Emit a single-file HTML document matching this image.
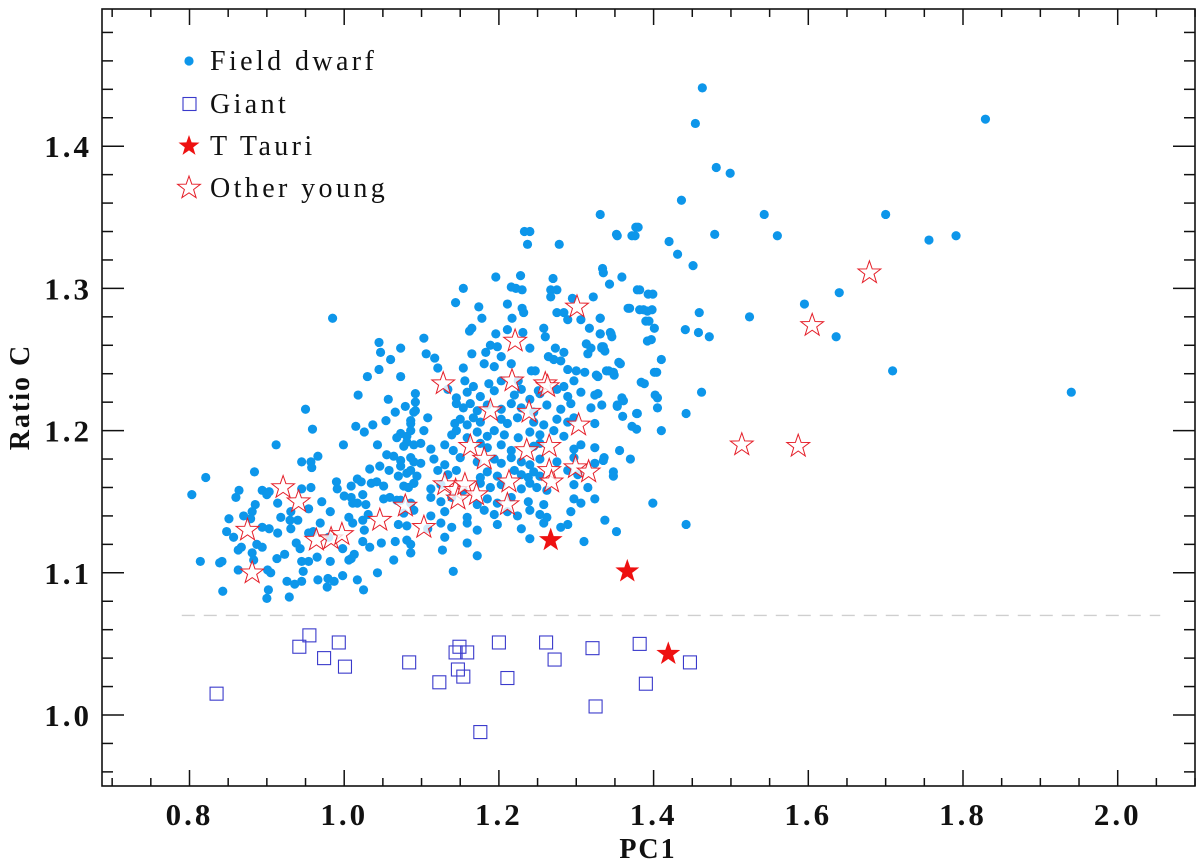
<!DOCTYPE html>
<html><head><meta charset="utf-8"><style>
html,body{margin:0;padding:0;background:#fff;}
svg{display:block;}
text{font-family:"Liberation Serif",serif;fill:#111;}
</style></head><body>
<svg id="chart" width="1200" height="862" viewBox="0 0 1200 862">
<rect x="0" y="0" width="1200" height="862" fill="#fff"/>
<g id="marks"></g>
<g id="axes"></g>
<g id="legend"></g>
</svg>
<script>
// ---- data ----
const xMin = 0.7, xMax = 2.115, yMin = 0.95, yMax = 1.495;
const xTickLabels = ["0.8","1.0","1.2","1.4","1.6","1.8","2.0"];
const yTickLabels = ["1.0","1.1","1.2","1.3","1.4"];
const dividerY = 1.07;

const giantX = [0.835,0.942,0.955,0.974,0.993,1.001,1.084,1.123,1.144,1.149,1.147,1.154,1.159,1.176,1.200,1.211,1.261,1.272,1.321,1.325,1.382,1.390,1.447];
const giantY = [1.015,1.048,1.056,1.040,1.051,1.034,1.037,1.023,1.044,1.048,1.032,1.027,1.044,0.988,1.051,1.026,1.051,1.039,1.047,1.006,1.050,1.022,1.037];

const tTauriX = [1.267,1.366,1.419];
const tTauriY = [1.123,1.101,1.043];

const youngX = [0.875,0.881,0.921,0.941,0.964,0.983,0.997,1.046,1.079,1.103,1.128,1.130,1.144,1.147,1.156,1.163,1.171,1.181,1.189,1.211,1.213,1.217,1.221,1.236,1.239,1.260,1.263,1.265,1.265,1.268,1.303,1.301,1.299,1.316,1.514,1.587,1.605,1.679];
const youngY = [1.130,1.100,1.160,1.150,1.123,1.124,1.127,1.137,1.147,1.132,1.233,1.162,1.158,1.152,1.162,1.189,1.155,1.180,1.214,1.148,1.164,1.235,1.263,1.186,1.213,1.233,1.231,1.189,1.172,1.164,1.204,1.287,1.174,1.171,1.190,1.189,1.274,1.311];

const dwarfX = [
1.463,1.454,1.481,1.499,1.436,1.829,1.543,1.700,1.560,1.756,1.791,1.479,1.420,1.431,1.451,1.377,1.372,1.352,1.359,1.343,1.379,1.393,1.367,1.382,1.392,1.459,1.524,1.595,1.640,1.636,1.709,1.940,1.390,1.401,1.392,1.441,1.458,1.472,1.410,1.401,1.384,1.355,1.342,1.349,1.462,1.402,1.405,1.359,1.353,1.360,1.378,1.442,1.372,1.378,1.410,1.356,1.336,1.370,1.348,1.399,1.337,1.352,1.442,
1.331,1.334,1.335,1.331,1.331,1.344,1.346,1.333,1.337,
1.233,1.240,1.237,1.278,1.353,1.376,1.380,1.196,1.228,1.270,1.154,1.216,1.222,1.230,1.267,1.275,
1.144,1.174,1.211,1.230,1.232,1.267,1.295,1.322,1.178,1.217,1.275,1.284,1.289,1.306,1.331,1.369,1.382,1.399,1.387,1.398,
1.165,1.162,1.196,1.211,1.231,1.258,1.260,1.317,1.331,1.345,1.394,1.103,
1.189,1.198,1.240,1.273,1.284,1.313,1.315,1.335,1.397,
1.106,1.117,1.165,1.183,1.203,1.264,1.280,1.289,1.319,1.333,1.348,1.357,
1.121,1.154,1.181,1.194,1.216,1.247,1.271,1.300,1.311,1.326,1.339,1.404,1.388,
1.073,1.156,1.167,1.187,1.203,1.225,1.242,1.251,1.284,1.297,1.328,1.328,1.353,1.361,1.379,1.405,1.073,
1.092,1.134,1.145,1.159,1.176,1.194,1.220,1.229,1.240,1.253,1.275,1.289,1.306,1.324,
1.079,1.092,1.145,1.154,1.163,1.172,1.185,1.203,1.216,1.229,1.245,1.262,1.280,1.293,1.319,1.333,
1.086,1.108,1.143,1.150,1.159,1.167,1.176,1.203,1.211,1.224,1.245,1.258,1.275,1.289,1.297,1.324,
1.073,1.081,1.103,1.139,1.145,1.159,1.172,1.185,1.194,1.207,1.225,1.240,1.253,1.271,1.284,
1.077,1.099,1.112,1.130,1.141,1.176,1.185,1.203,1.216,1.245,1.253,1.297,1.306,1.324,
1.073,1.086,1.099,1.116,1.130,1.150,1.172,1.194,1.203,1.216,1.229,1.240,1.253,1.275,1.297,1.324,1.335,
1.081,1.094,1.121,1.134,1.145,1.176,1.185,1.198,1.220,1.229,1.238,1.245,1.253,1.289,1.302,1.348,
1.077,1.090,1.112,1.125,1.154,1.176,1.189,1.203,1.229,1.240,1.249,1.262,1.297,1.315,
1.073,1.086,1.112,1.125,1.139,1.172,1.185,1.198,1.216,1.238,1.258,1.297,1.306,1.324,
1.077,1.090,1.112,1.130,1.159,1.181,1.194,1.211,1.224,1.240,1.253,1.262,1.293,
1.081,1.108,1.125,1.139,1.159,1.172,1.198,1.229,1.258,1.280,1.289,
1.081,1.130,1.159,1.240,1.310,1.086,1.127,1.172,1.141,
0.959,1.057,1.092,1.090,1.066,1.054,1.015,1.026,1.037,1.086,1.086,0.999,1.043,1.068,1.081,1.090,1.055,1.064,1.073,1.086,1.090,1.033,1.046,1.058,1.070,
0.945,0.957,0.966,0.958,0.884,0.821,0.803,0.864,0.860,0.894,0.903,0.900,0.945,0.957,0.990,0.991,1.009,1.017,1.022,1.035,1.042,1.051,1.059,1.083,1.090,
0.914,0.931,0.954,0.971,0.982,1.000,1.009,1.024,1.028,1.017,1.051,1.068,0.885,0.881,0.879,0.851,0.918,0.930,0.940,0.931,0.894,0.903,0.914,0.848,0.857,
0.867,0.863,0.887,0.894,0.881,0.883,0.938,0.943,0.954,0.969,0.960,0.998,1.006,1.011,1.024,1.031,1.026,1.024,1.033,1.048,1.066,1.070,1.086,1.086,1.064,
1.043,1.017,1.025,0.998,0.982,0.965,0.954,0.945,0.923,0.913,0.905,0.901,0.863,0.842,0.839,0.814,0.843,0.900,0.902,0.929,0.926,0.936,0.945,0.966,0.979,
0.978,0.987,1.006,1.013,0.947,0.980,1.011,1.009,
0.985,1.045,1.047,1.045,1.060,1.030,1.018,0.950,0.912,0.870
];
const dwarfY = [
1.441,1.416,1.385,1.381,1.362,1.419,1.352,1.352,1.337,1.334,1.337,1.338,1.333,1.324,1.316,1.343,1.337,1.338,1.308,1.303,1.299,1.296,1.286,1.285,1.284,1.283,1.280,1.289,1.297,1.266,1.242,1.227,1.277,1.272,1.263,1.271,1.269,1.266,1.250,1.241,1.234,1.248,1.242,1.239,1.227,1.225,1.216,1.223,1.217,1.210,1.212,1.212,1.203,1.201,1.200,1.186,1.181,1.180,1.168,1.149,1.137,1.129,1.134,
1.352,1.314,1.311,1.279,1.268,1.269,1.266,1.259,1.256,
1.340,1.340,1.331,1.331,1.337,1.337,1.343,1.308,1.309,1.307,1.300,1.301,1.300,1.299,1.299,1.299,
1.290,1.287,1.289,1.286,1.283,1.294,1.293,1.294,1.279,1.279,1.283,1.283,1.278,1.278,1.279,1.286,1.299,1.296,1.285,1.285,
1.272,1.270,1.268,1.271,1.269,1.272,1.266,1.272,1.268,1.268,1.277,1.265,
1.260,1.259,1.258,1.258,1.255,1.261,1.254,1.259,1.264,
1.254,1.251,1.254,1.255,1.252,1.252,1.249,1.243,1.258,1.258,1.241,1.247,
1.244,1.244,1.247,1.245,1.247,1.242,1.250,1.242,1.241,1.239,1.242,1.241,1.233,
1.238,1.235,1.231,1.233,1.235,1.235,1.242,1.228,1.231,1.235,1.238,1.226,1.218,1.221,1.212,1.223,1.258,
1.226,1.229,1.223,1.227,1.224,1.228,1.225,1.229,1.222,1.226,1.229,1.224,1.227,1.225,
1.217,1.214,1.219,1.216,1.219,1.214,1.218,1.215,1.219,1.216,1.213,1.218,1.215,1.219,1.216,1.218,
1.207,1.209,1.205,1.208,1.204,1.209,1.206,1.208,1.205,1.209,1.206,1.204,1.208,1.206,1.209,1.205,
1.198,1.196,1.200,1.197,1.200,1.195,1.199,1.196,1.200,1.197,1.195,1.199,1.197,1.200,1.196,
1.189,1.191,1.187,1.190,1.186,1.191,1.188,1.190,1.186,1.189,1.191,1.187,1.190,1.188,
1.179,1.181,1.177,1.180,1.176,1.181,1.178,1.180,1.177,1.181,1.178,1.176,1.180,1.178,1.181,1.177,1.179,
1.170,1.168,1.172,1.169,1.172,1.167,1.171,1.168,1.172,1.169,1.167,1.171,1.168,1.172,1.169,1.171,
1.161,1.163,1.159,1.162,1.158,1.163,1.160,1.162,1.159,1.163,1.160,1.158,1.162,1.160,
1.151,1.149,1.153,1.150,1.153,1.148,1.152,1.149,1.153,1.150,1.148,1.152,1.149,1.152,
1.142,1.144,1.140,1.143,1.139,1.144,1.141,1.143,1.140,1.144,1.141,1.139,1.143,
1.133,1.131,1.135,1.132,1.135,1.130,1.134,1.131,1.135,1.132,1.134,
1.123,1.125,1.121,1.124,1.122,1.114,1.116,1.112,1.101,
1.201,1.222,1.220,1.213,1.213,1.207,1.203,1.199,1.204,1.205,1.200,1.190,1.190,1.195,1.192,1.190,1.183,1.182,1.175,1.172,1.178,1.173,1.175,1.172,1.168,
1.178,1.178,1.182,1.174,1.171,1.167,1.155,1.158,1.153,1.158,1.157,1.155,1.159,1.160,1.164,1.159,1.161,1.166,1.164,1.163,1.164,1.161,1.153,1.160,1.163,
1.149,1.143,1.145,1.150,1.143,1.154,1.153,1.155,1.148,1.149,1.152,1.151,1.148,1.143,1.138,1.138,1.139,1.137,1.137,1.131,1.132,1.131,1.128,1.129,1.125,
1.118,1.116,1.120,1.118,1.114,1.109,1.121,1.117,1.128,1.135,1.129,1.117,1.139,1.135,1.137,1.141,1.130,1.122,1.118,1.121,1.122,1.134,1.120,1.114,1.109,
1.100,1.095,1.088,1.098,1.108,1.111,1.108,1.108,1.113,1.110,1.100,1.102,1.102,1.108,1.107,1.108,1.087,1.082,1.088,1.083,1.094,1.092,1.094,1.095,1.096,
1.090,1.094,1.109,1.113,1.101,1.125,1.149,1.110,
1.279,1.262,1.255,1.243,1.250,1.238,1.225,1.215,1.190,1.140
];

// ---- scales ----
const X = v => 189.5 + (v - 0.8) * 773.5;
const Y = v => 715 - (v - 1.0) * 1422;
const L = 102, R = 1195, T = 9, B = 786;
const NS = "http://www.w3.org/2000/svg";
function mk(tag, attrs, parent){ const e=document.createElementNS(NS,tag); for(const k in attrs) e.setAttribute(k,attrs[k]); parent.appendChild(e); return e; }
function starPts(cx, cy, ro){ const ri=ro*0.4; let p=[]; for(let i=0;i<10;i++){ const r=i%2?ri:ro; const a=-Math.PI/2+i*Math.PI/5; p.push((cx+r*Math.cos(a)).toFixed(1)+","+(cy+r*Math.sin(a)).toFixed(1)); } return p.join(" "); }

const marks = document.getElementById('marks');
const axes = document.getElementById('axes');
const legend = document.getElementById('legend');

const dl = mk('line',{x1:X(0.79),x2:X(2.055),y1:Y(dividerY),y2:Y(dividerY),stroke:'#cfcfcf','stroke-width':1.3,'stroke-dasharray':'13 9'},marks);



for(let i=0;i<dwarfX.length;i++){
  const c = mk('circle',{cx:X(dwarfX[i]),cy:Y(dwarfY[i]),r:4.6,fill:'#0d96ea'},marks);
  
  
}
for(let i=0;i<giantX.length;i++){
  const s = mk('rect',{x:X(giantX[i])-6.5,y:Y(giantY[i])-6.5,width:13,height:13,fill:'none',stroke:'#3a3acb','stroke-width':1.1},marks);
  
  
}
for(let i=0;i<youngX.length;i++){
  const s = mk('polygon',{points:starPts(X(youngX[i]),Y(youngY[i]),12),fill:'rgba(255,255,255,0.8)',stroke:'#e5202a','stroke-width':1},marks);
  
  
}
for(let i=0;i<tTauriX.length;i++){
  const s = mk('polygon',{points:starPts(X(tTauriX[i]),Y(tTauriY[i]),11),fill:'#ee1111',stroke:'#ee1111','stroke-width':1},marks);
  
  
}

const fr = mk('rect',{x:L,y:T,width:R-L,height:B-T,fill:'none',stroke:'#111','stroke-width':1.6},axes);



for(let k=0;k<=28;k++){
  const v = 0.7 + k*0.05;
  if(v < xMin - 1e-9 || v > xMax) continue;
  const major = (k % 4) === 2;
  const len = major ? 16 : 8;
  const px = X(v);
  const t1 = mk('line',{x1:px,x2:px,y1:B,y2:B-len,stroke:'#111','stroke-width':1.5},axes);
  
  
  const t2 = mk('line',{x1:px,x2:px,y1:T,y2:T+len,stroke:'#111','stroke-width':1.5},axes);
  
  
}
xTickLabels.forEach(s=>{
  const t = mk('text',{x:X(parseFloat(s)),y:825,'text-anchor':'middle','font-size':31,'font-weight':'bold','letter-spacing':3},axes);
  t.textContent = s;
  
  
});
for(let k=0;k<=27;k++){
  const v = 0.96 + k*0.02;
  if(v > yMax) continue;
  const major = Math.abs(((v-1.0)/0.1) - Math.round((v-1.0)/0.1)) < 1e-6;
  const len = major ? 22 : 11;
  const py = Y(v);
  const t1 = mk('line',{x1:L,x2:L+len,y1:py,y2:py,stroke:'#111','stroke-width':1.5},axes);
  
  
  const t2 = mk('line',{x1:R,x2:R-len,y1:py,y2:py,stroke:'#111','stroke-width':1.5},axes);
  
  
}
yTickLabels.forEach(s=>{
  const t = mk('text',{x:92,y:Y(parseFloat(s))+11,'text-anchor':'end','font-size':31,'font-weight':'bold','letter-spacing':3},axes);
  t.textContent = s;
  
  
});
const xt = mk('text',{x:648,y:858,'text-anchor':'middle','font-size':28,'font-weight':'bold','letter-spacing':2},axes);
xt.textContent = 'PC1';


const yt = mk('text',{x:0,y:0,'text-anchor':'middle','font-size':28,'font-weight':'bold','letter-spacing':2,transform:'translate(29,397) rotate(-90)'},axes);
yt.textContent = 'Ratio C';



const legendLabels = ["Field dwarf","Giant","T Tauri","Other young"];
const rows = [61,104,146,188];
const ld = mk('circle',{cx:189,cy:rows[0],r:4.6,fill:'#0d96ea'},legend);


const lg = mk('rect',{x:183,y:rows[1]-6.5,width:13,height:13,fill:'none',stroke:'#3a3acb','stroke-width':1.1},legend);


const lt = mk('polygon',{points:starPts(189,rows[2],11),fill:'#ee1111'},legend);


const lo = mk('polygon',{points:starPts(189,rows[3],12),fill:'none',stroke:'#e5202a','stroke-width':1},legend);


legendLabels.forEach((s,i)=>{
  const t = mk('text',{x:210,y:rows[i]+9,'font-size':28,'letter-spacing':3.4,fill:'#222'},legend);
  t.textContent = s;
  
  
});
</script>
</body></html>
